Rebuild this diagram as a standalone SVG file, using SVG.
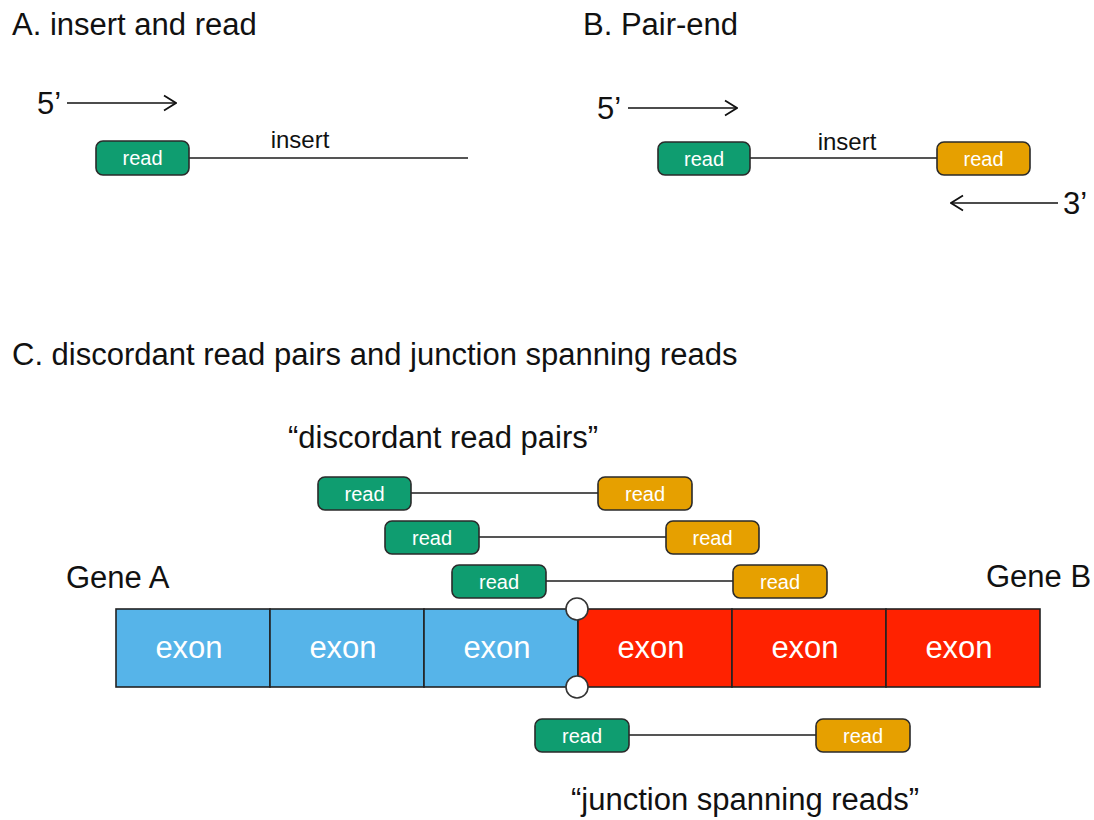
<svg xmlns="http://www.w3.org/2000/svg" width="1094" height="820" viewBox="0 0 1094 820">
<defs>
<marker id="chev" viewBox="0 0 14 18" refX="13" refY="9" markerWidth="14" markerHeight="18" markerUnits="userSpaceOnUse" orient="auto">
<path d="M1 1.5 L13 9 L1 16.5" fill="none" stroke="#111" stroke-width="1.7"/>
</marker>
<style>
text{font-family:"Liberation Sans",Arial,sans-serif}
.h{font-size:31px;fill:#111}
.lbl{font-size:24px;fill:#111}
.rt{font-size:20px;fill:#fff;text-anchor:middle}
.ex{font-size:31px;fill:#fff;text-anchor:middle}
.g{fill:#0f9d70;stroke:#2a2a2a;stroke-width:1.6}
.o{fill:#e6a000;stroke:#2a2a2a;stroke-width:1.6}
.link{stroke:#555;stroke-width:2;fill:none}
.arr{stroke:#111;stroke-width:1.6;fill:none;marker-end:url(#chev)}
.eb{fill:#56b4e9;stroke:#222;stroke-width:1.6}
.er{fill:#ff2200;stroke:#222;stroke-width:1.6}
.jc{fill:#fff;stroke:#333;stroke-width:1.6}
</style>
</defs>

<g id="titles">
<text class="h" x="12" y="35">A. insert and read</text>
<text class="h" x="583" y="35">B. Pair-end</text>
<text class="h" x="12" y="365">C. discordant read pairs and junction spanning reads</text>
<text class="h" x="288" y="448">“discordant read pairs”</text>
<text class="h" x="571" y="810">“junction spanning reads”</text>
<text class="h" x="66" y="588">Gene A</text>
<text class="h" x="986" y="587">Gene B</text>
</g>

<g id="connectors">
<path class="arr" d="M67 103 H176"/>
<path class="link" d="M189 158 H468"/>
<path class="arr" d="M628 108 H737"/>
<path class="link" d="M750 158 H937"/>
<path class="arr" d="M1058 203 H951"/>
<path class="link" d="M411 493 H598"/>
<path class="link" d="M479 537 H666"/>
<path class="link" d="M546 581 H733"/>
<path class="link" d="M629 735 H816"/>
</g>

<g id="labelsAB">
<text class="h" x="37" y="114">5’</text>
<text class="lbl" x="300" y="148" text-anchor="middle">insert</text>
<text class="h" x="597" y="119">5’</text>
<text class="lbl" x="847" y="150" text-anchor="middle">insert</text>
<text class="h" x="1063" y="214">3’</text>
</g>

<g id="readA">
<rect class="g" x="96" y="141" width="93" height="34" rx="7"/>
<text class="rt" x="142.5" y="165">read</text>
</g>
<g id="readB1">
<rect class="g" x="658" y="142" width="92" height="33" rx="7"/>
<text class="rt" x="704" y="165.5">read</text>
</g>
<g id="readB2">
<rect class="o" x="937" y="142" width="93" height="33" rx="7"/>
<text class="rt" x="983.5" y="165.5">read</text>
</g>

<g id="disc1g"><rect class="g" x="318" y="477" width="93" height="33" rx="7"/><text class="rt" x="364.5" y="500.5">read</text></g>
<g id="disc1o"><rect class="o" x="598" y="477" width="94" height="33" rx="7"/><text class="rt" x="645" y="500.5">read</text></g>
<g id="disc2g"><rect class="g" x="385" y="521" width="94" height="33" rx="7"/><text class="rt" x="432" y="544.5">read</text></g>
<g id="disc2o"><rect class="o" x="666" y="521" width="93" height="33" rx="7"/><text class="rt" x="712.5" y="544.5">read</text></g>
<g id="disc3g"><rect class="g" x="452" y="565" width="94" height="33" rx="7"/><text class="rt" x="499" y="588.5">read</text></g>
<g id="disc3o"><rect class="o" x="733" y="565" width="94" height="33" rx="7"/><text class="rt" x="780" y="588.5">read</text></g>

<g id="geneA">
<rect class="eb" x="116" y="609" width="154" height="78"/><text class="ex" x="189" y="658">exon</text>
<rect class="eb" x="270" y="609" width="154" height="78"/><text class="ex" x="343" y="658">exon</text>
<rect class="eb" x="424" y="609" width="154" height="78"/><text class="ex" x="497" y="658">exon</text>
</g>
<g id="geneB">
<rect class="er" x="578" y="609" width="154" height="78"/><text class="ex" x="651" y="658">exon</text>
<rect class="er" x="732" y="609" width="154" height="78"/><text class="ex" x="805" y="658">exon</text>
<rect class="er" x="886" y="609" width="154" height="78"/><text class="ex" x="959" y="658">exon</text>
</g>
<g id="junction">
<circle class="jc" cx="577" cy="609" r="11"/>
<circle class="jc" cx="577" cy="687" r="11"/>
</g>

<g id="span1g"><rect class="g" x="535" y="719" width="94" height="33" rx="7"/><text class="rt" x="582" y="742.5">read</text></g>
<g id="span1o"><rect class="o" x="816" y="719" width="94" height="33" rx="7"/><text class="rt" x="863" y="742.5">read</text></g>
</svg>
